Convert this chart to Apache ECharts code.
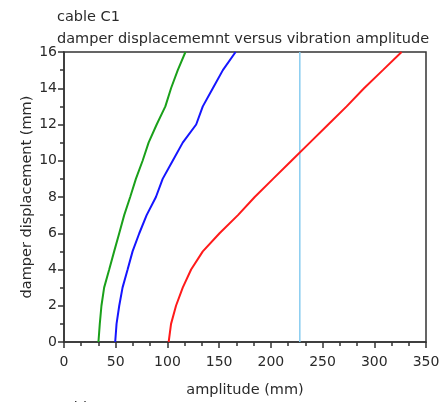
<!DOCTYPE html>
<html><head><meta charset="utf-8">
<script src="https://cdn.jsdelivr.net/npm/echarts@6/dist/echarts.min.js"></script>
<style>html,body{margin:0;padding:0;background:#fff}#c{width:442px;height:402px}</style>
</head><body><div id="c"></div>
<script>
// damper displacement (mm) levels
const displacement = [0,1,2,3,4,5,6,7,8,9,10,11,12,13,14,15,16];
// amplitude (mm) per curve at each displacement level
const greenAmp = [33.3,34.6,36.2,38.8,43.7,48.5,53.4,58.2,64.0,69.5,76.0,81.8,89.6,98.0,103.5,110.0,117.4];
const blueAmp  = [49.5,50.8,53.4,56.6,61.5,66.3,72.8,79.9,88.9,95.4,105.1,114.8,127.8,134.2,143.9,153.6,165.9];
const redAmp   = [101.2,103.5,108.3,114.8,122.9,134.2,150.4,168.2,184.4,202.1,219.9,237.7,255.5,273.3,290.1,308.3,326.4];
const referenceAmp = 228;
const xTicks = [0,50,100,150,200,250,300,350];
const yTicks = [0,2,4,6,8,10,12,14,16];

const font = '"DejaVu Sans", sans-serif';
const txt = '#2a2a2a';
const pair = (xs) => xs.map((x,i) => [x, displacement[i]]);
const chart = echarts.init(document.getElementById('c'), null, {renderer:'canvas'});
chart.setOption({
  animation:false,
  backgroundColor:'#fff',
  title:[
    {text:'cable C1', left:52, top:5, textStyle:{fontFamily:font,fontSize:14.5,fontWeight:'normal',color:txt}},
    {text:'damper displacememnt versus vibration amplitude', left:52, top:27, textStyle:{fontFamily:font,fontSize:14.5,fontWeight:'normal',color:txt}},
    {text:'cable C2', left:52, top:396, textStyle:{fontFamily:font,fontSize:14.5,fontWeight:'normal',color:txt}}
  ],
  grid:{left:64,right:16,top:52,bottom:60,outerBoundsMode:'none',containLabel:false,show:true,borderColor:'#333',borderWidth:1.5,backgroundColor:'transparent'},
  xAxis:{type:'value',min:xTicks[0],max:xTicks[xTicks.length-1],interval:50,
    name:'amplitude (mm)',nameLocation:'middle',nameGap:41,nameMoveOverlap:false,
    nameTextStyle:{fontFamily:font,fontSize:14.5,color:txt},
    axisLine:{show:true,lineStyle:{color:'#333',width:1.5}},
    axisTick:{show:true,length:6,lineStyle:{color:'#333',width:1.5}},
    minorTick:{show:true,splitNumber:3,length:4,lineStyle:{color:'#333',width:1.5}},
    splitLine:{show:false},
    axisLabel:{fontFamily:font,fontSize:14,color:txt,margin:13}},
  yAxis:{type:'value',min:yTicks[0],max:yTicks[yTicks.length-1],interval:2,
    name:'damper displacement (mm)',nameLocation:'middle',nameGap:29,nameMoveOverlap:false,
    nameTextStyle:{fontFamily:font,fontSize:14.5,color:txt},
    axisLine:{show:true,lineStyle:{color:'#333',width:1.5}},
    axisTick:{show:true,length:6,lineStyle:{color:'#333',width:1.5}},
    minorTick:{show:true,splitNumber:2,length:4,lineStyle:{color:'#333',width:1.5}},
    splitLine:{show:false},
    axisLabel:{fontFamily:font,fontSize:14,color:txt,margin:7}},
  series:[
    {type:'line',data:pair(greenAmp),showSymbol:false,lineStyle:{color:'#1aa01a',width:2},z:3},
    {type:'line',data:pair(blueAmp),showSymbol:false,lineStyle:{color:'#1515ff',width:2},z:3},
    {type:'line',data:pair(redAmp),showSymbol:false,lineStyle:{color:'#ff1a1a',width:2},z:3},
    {type:'line',data:[[referenceAmp,yTicks[0]],[referenceAmp,yTicks[yTicks.length-1]]],showSymbol:false,lineStyle:{color:'#88ccf0',width:1.5},z:2}
  ]
});
</script></body></html>
